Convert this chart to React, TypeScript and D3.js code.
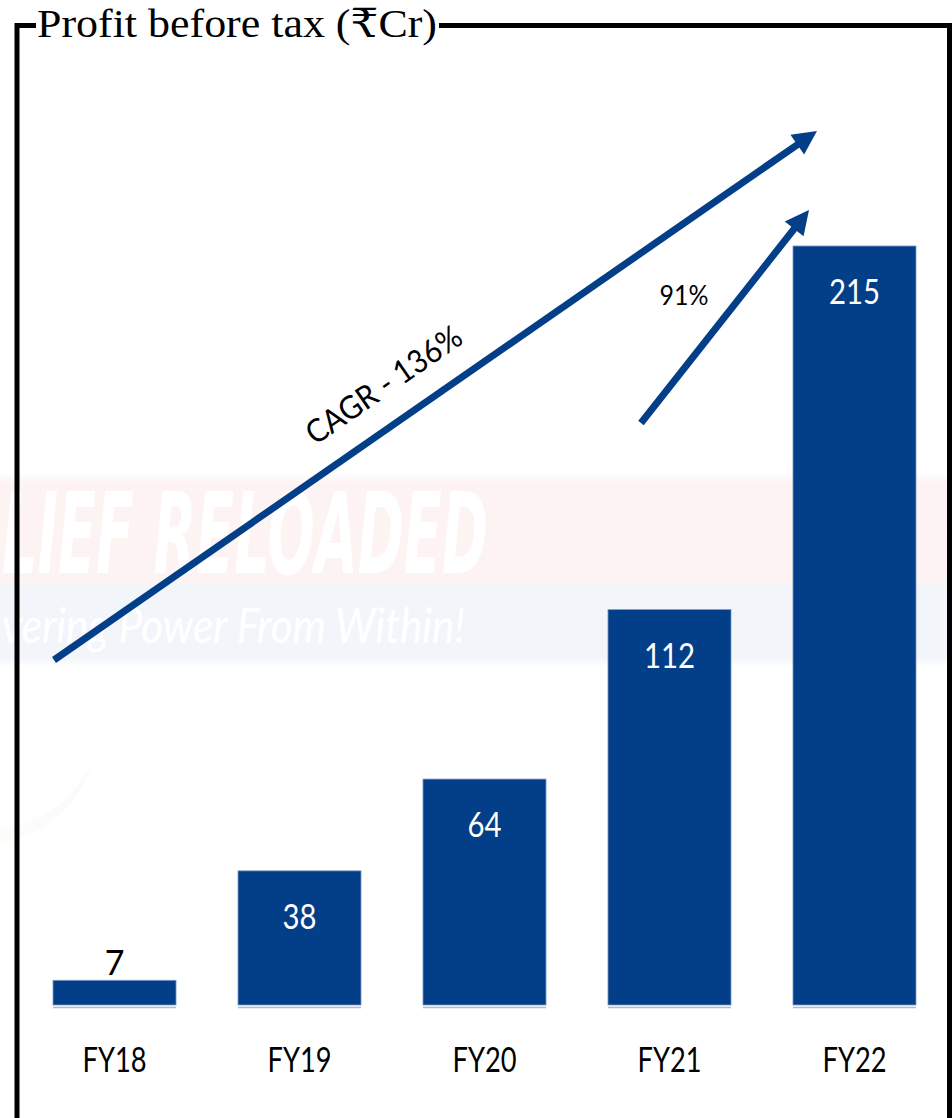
import React from "react";
import * as d3 from "d3";

const categories = ["FY18", "FY19", "FY20", "FY21", "FY22"];
const values = [7, 38, 64, 112, 215];
const valueLabels = ["7", "38", "64", "112", "215"];
const title = "Profit before tax (₹Cr)";
const cagrLabel = "CAGR - 136%";
const yoyLabel = "91%";
const watermarkTop = "LIEF RELOADED";
const watermarkBottom = "vering Power From Within!";

const W = 952;
const H = 1118;
const BLUE = "#023f88";
const SANS = "Lato, 'Open Sans', sans-serif";

function arrowPath(x1: number, y1: number, x2: number, y2: number, len: number, half: number) {
  const a = Math.atan2(y2 - y1, x2 - x1);
  const bx = x2 - len * Math.cos(a);
  const by = y2 - len * Math.sin(a);
  const px = -Math.sin(a) * half;
  const py = Math.cos(a) * half;
  return {
    line: [x1, y1, bx + 2 * Math.cos(a), by + 2 * Math.sin(a)],
    head: `M${x2},${y2}L${bx + px},${by + py}L${bx - px},${by - py}Z`,
  };
}

export default function App() {
  const x = d3.scaleBand<string>().domain(categories).range([53, 916]).paddingInner(0.335).paddingOuter(0);
  const y = d3.scaleLinear().domain([0, 215]).range([1005, 246]);

  const big = arrowPath(54, 660, 817, 131, 24, 12);
  const small = arrowPath(641, 423, 809, 210, 24, 12);
  const ang = (Math.atan2(131 - 660, 817 - 54) * 180) / Math.PI;

  return (
    <svg width={W} height={H} style={{ position: "absolute", left: 0, top: 0, background: "#fff" }}>
      <defs>
        <linearGradient id="pinkBand" x1="0" y1="0" x2="0" y2="1">
          <stop offset="0" stopColor="#fdf5f4" stopOpacity="0.3" />
          <stop offset="0.08" stopColor="#fdf3f2" />
          <stop offset="1" stopColor="#fcf4f3" />
        </linearGradient>
        <linearGradient id="blueBand" x1="0" y1="0" x2="0" y2="1">
          <stop offset="0" stopColor="#f2f6fb" />
          <stop offset="0.9" stopColor="#f2f6fb" />
          <stop offset="1" stopColor="#f4f7fb" stopOpacity="0.4" />
        </linearGradient>
        <linearGradient id="swoosh" x1="0" y1="1" x2="1" y2="0">
          <stop offset="0" stopColor="#fefaf5" />
          <stop offset="1" stopColor="#f5f7fc" />
        </linearGradient>
      </defs>

      {/* watermark */}
      <rect x={0} y={475} width={947} height={108} fill="url(#pinkBand)" />
      <rect x={0} y={583} width={947} height={82} fill="url(#blueBand)" />
      <text
        x={2}
        y={573}
        fontFamily="'DejaVu Sans Condensed', 'DejaVu Sans', sans-serif"
        fontWeight="bold"
        fontStyle="italic"
        fontSize={112}
        fill="#ffffff"
        textLength={486}
        lengthAdjust="spacingAndGlyphs"
      >
        {watermarkTop}
      </text>
      <text
        x={2}
        y={643}
        fontFamily={SANS}
        fontStyle="italic"
        fontSize={48}
        fill="#ffffff"
        textLength={463}
        lengthAdjust="spacingAndGlyphs"
      >
        {watermarkBottom}
      </text>
      <path d="M0,842 C40,836 78,812 92,762 C72,802 40,824 0,828 Z" fill="url(#swoosh)" opacity={0.6} />

      {/* bars */}
      {categories.map((c, i) => (
        <g key={c}>
          <rect
            x={x(c)}
            y={y(values[i])}
            width={x.bandwidth()}
            height={y(0) - y(values[i])}
            fill={BLUE}
            stroke="#7d9ac4"
            strokeWidth={0.8}
          />
          <line
            x1={x(c)}
            x2={(x(c) as number) + x.bandwidth()}
            y1={y(0) + 2.5}
            y2={y(0) + 2.5}
            stroke="#a9bbd6"
            strokeWidth={1.5}
          />
          {values[i] < 20 ? (
            <text
              x={(x(c) as number) + x.bandwidth() / 2}
              y={y(values[i]) - 5}
              textAnchor="middle"
              fontFamily={SANS}
              fontSize={34}
              fill="#000"
            >
              {valueLabels[i]}
            </text>
          ) : (
            <text
              x={(x(c) as number) + x.bandwidth() / 2}
              y={y(values[i]) + 58}
              textAnchor="middle"
              fontFamily={SANS}
              fontSize={34}
              fill="#fff"
              textLength={valueLabels[i].length * 17}
              lengthAdjust="spacingAndGlyphs"
            >
              {valueLabels[i]}
            </text>
          )}
          <text
            x={(x(c) as number) + x.bandwidth() / 2}
            y={1072}
            textAnchor="middle"
            fontFamily={SANS}
            fontSize={34}
            fill="#000"
            textLength={64}
            lengthAdjust="spacingAndGlyphs"
          >
            {c}
          </text>
        </g>
      ))}

      {/* arrows */}
      <line x1={big.line[0]} y1={big.line[1]} x2={big.line[2]} y2={big.line[3]} stroke={BLUE} strokeWidth={7} />
      <path d={big.head} fill={BLUE} />
      <line x1={small.line[0]} y1={small.line[1]} x2={small.line[2]} y2={small.line[3]} stroke={BLUE} strokeWidth={7} />
      <path d={small.head} fill={BLUE} />

      <text
        transform={`translate(390,394) rotate(${ang})`}
        textAnchor="middle"
        fontFamily={SANS}
        fontSize={32}
        fill="#000"
        textLength={182}
        lengthAdjust="spacingAndGlyphs"
      >
        {cagrLabel}
      </text>
      <text
        x={684}
        y={305}
        textAnchor="middle"
        fontFamily={SANS}
        fontSize={27}
        fill="#000"
        textLength={49}
        lengthAdjust="spacingAndGlyphs"
      >
        {yoyLabel}
      </text>

      {/* frame */}
      <path d="M17,1118 L17,25.5 L36,25.5" fill="none" stroke="#000" strokeWidth={5} />
      <path d="M439,25.5 L949.5,25.5 L949.5,1118" fill="none" stroke="#000" strokeWidth={5} />
      <text
        x={37}
        y={37}
        fontFamily="'Liberation Serif', 'DejaVu Serif', serif"
        fontSize={40}
        fill="#000"
        textLength={400}
        lengthAdjust="spacingAndGlyphs"
      >
        {title}
      </text>
    </svg>
  );
}
